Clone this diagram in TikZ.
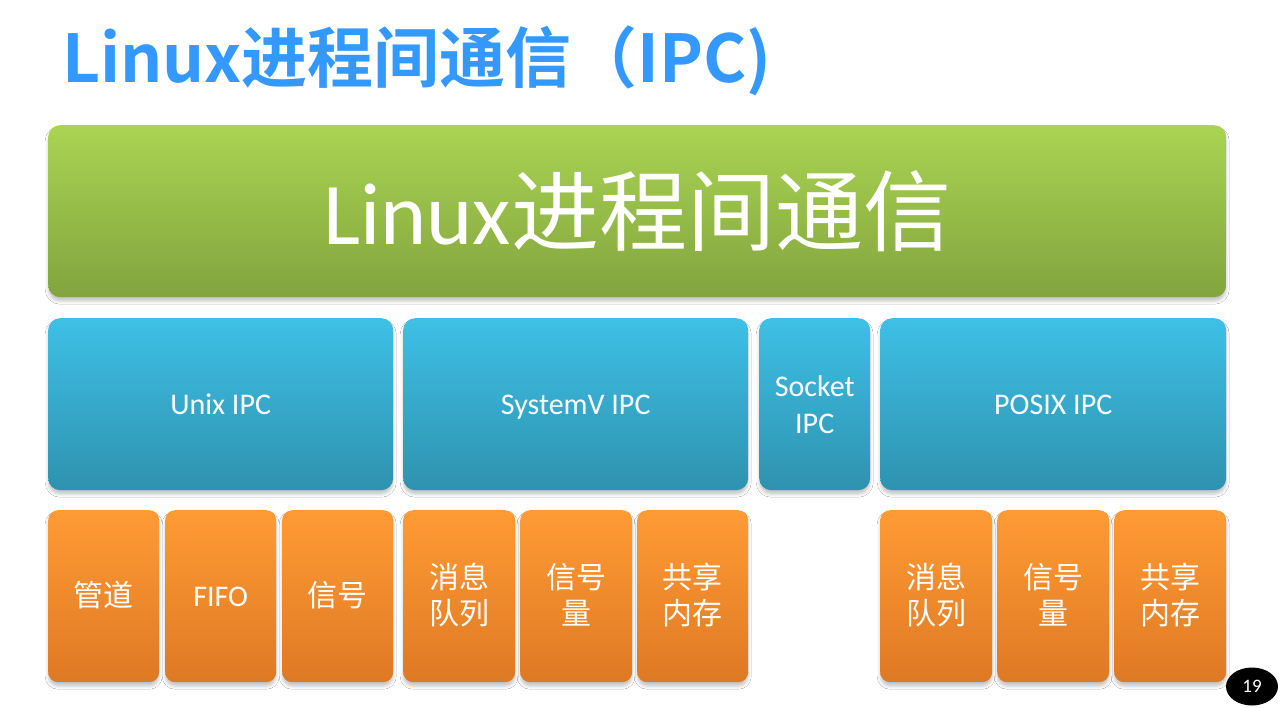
\documentclass[tikz,border=0pt]{standalone}
\usepackage{fontspec}
\setmainfont{Carlito}
\newfontfamily\cjk{Noto Sans CJK SC}
\newfontfamily\cjkb{Noto Sans CJK SC Bold}
\usetikzlibrary{shadows.blur,shapes.geometric}
\definecolor{titleblue}{RGB}{51,153,255}
\definecolor{gA}{RGB}{170,212,82}
\definecolor{gB}{RGB}{130,164,62}
\definecolor{bA}{RGB}{62,192,230}
\definecolor{bB}{RGB}{46,146,175}
\definecolor{oA}{RGB}{255,155,52}
\definecolor{oB}{RGB}{222,121,36}
\newcommand\bx[7]{\node[#2, minimum width={(#5-#3)*1pt}, minimum height={(#6-#4)*1pt}] (#1) at (#3,#4) {#7};}
\newcommand\st{\rule[-8pt]{0pt}{37pt}}
\newcommand\sto{\rule[-8pt]{0pt}{36pt}}
\begin{document}
\begin{tikzpicture}[x=1pt,y=-1pt,
  box/.style={inner sep=0pt, anchor=north west, text=white, align=center,
    blur shadow={shadow xshift=0pt,shadow yshift=-4pt,shadow blur radius=3pt,shadow opacity=22}},
  greenbox/.style={box, rounded corners=12pt, top color=gA, bottom color=gB},
  bluebox/.style={box, rounded corners=12pt, top color=bA, bottom color=bB, font=\fontsize{30}{37}\selectfont},
  orangebox/.style={box, rounded corners=10pt, top color=oA, bottom color=oB, font=\fontsize{30}{36}\selectfont}]
\useasboundingbox (0,0) rectangle (1280,707);
\fill[white] (0,0) rectangle (1280,707);
\node[anchor=base west, inner sep=0pt, text=titleblue, font=\cjkb\fontsize{66}{66}\selectfont] (title) at (62,82) {Linux进程间通信（IPC)};
\bx{top}{greenbox, font=\fontsize{88}{88}\selectfont}{48}{125}{1226}{297}{Linux{\cjk 进程间通信}}
\bx{unix}{bluebox}{48}{318}{393}{490}{Unix IPC\st}
\bx{sysv}{bluebox}{403}{318}{748}{490}{SystemV IPC\st}
\bx{sock}{bluebox}{759}{318}{870}{490}{Socket\st\\IPC\st}
\bx{posix}{bluebox}{880}{318}{1226}{490}{POSIX IPC\st}
\bx{pipe}{orangebox}{48}{510}{159}{682}{\cjk 管道\sto}
\bx{fifo}{orangebox}{165}{510}{276}{682}{FIFO\sto}
\bx{sig}{orangebox}{282}{510}{393}{682}{\cjk 信号\sto}
\bx{vmq}{orangebox}{403}{510}{515}{682}{\cjk 消息\sto\\\cjk 队列\sto}
\bx{vsem}{orangebox}{520}{510}{632}{682}{\cjk 信号\sto\\\cjk 量\sto}
\bx{vshm}{orangebox}{637}{510}{748}{682}{\cjk 共享\sto\\\cjk 内存\sto}
\bx{pmq}{orangebox}{880}{510}{992}{682}{\cjk 消息\sto\\\cjk 队列\sto}
\bx{psem}{orangebox}{997}{510}{1109}{682}{\cjk 信号\sto\\\cjk 量\sto}
\bx{pshm}{orangebox}{1114}{510}{1226}{682}{\cjk 共享\sto\\\cjk 内存\sto}
\node[ellipse, fill=black, minimum width=52pt, minimum height=38pt, inner sep=0pt, text=white, font=\fontsize{19}{19}\selectfont] (page) at (1252,686.5) {19};
\end{tikzpicture}
\end{document}
